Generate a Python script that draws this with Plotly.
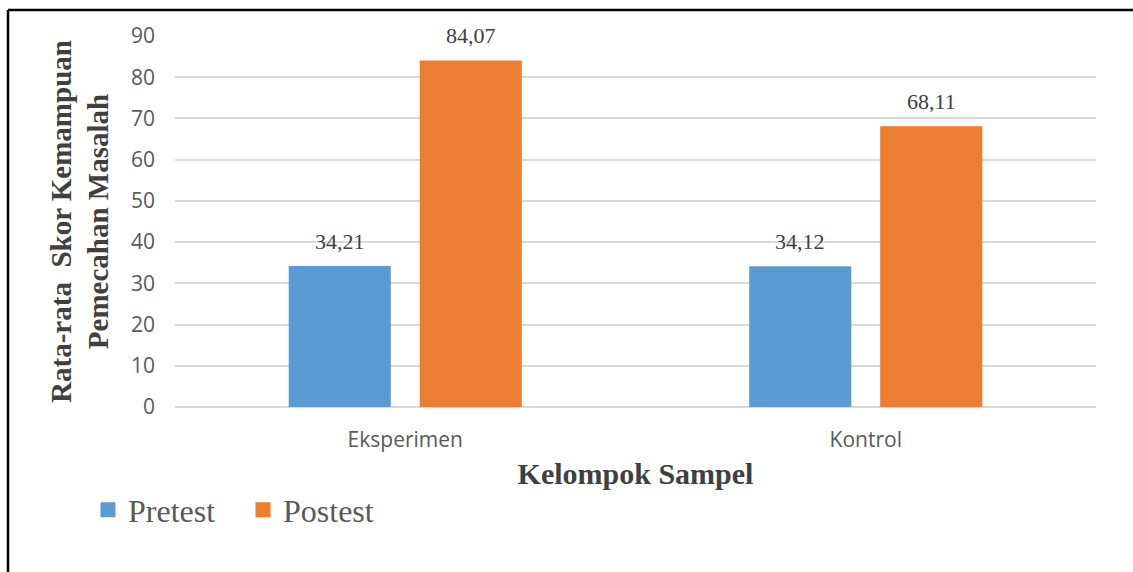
import plotly.graph_objects as go

# Rata-rata skor per kelompok
kelompok = ["Eksperimen", "Kontrol"]
pretest = [34.21, 34.12]
postest = [84.07, 68.11]
y_ticks = [0, 10, 20, 30, 40, 50, 60, 70, 80, 90]

warna_pre = "#5B9BD5"
warna_post = "#ED7D31"
serif = "Liberation Serif, Times New Roman, serif"
sans = "Open Sans, sans-serif"


def fmt(v):
    return f"{v:.2f}".replace(".", ",")


W, H = 1133, 572
L, R, T, B = 175, 37, 36, 165
pw, ph = W - L - R, H - T - B
BARGAP, GROUPGAP = 0.431, 0.221

fig = go.Figure()
fig.add_trace(go.Bar(name="Pretest", x=kelompok, y=pretest, showlegend=False,
                     marker=dict(color=warna_pre, line=dict(width=0))))
fig.add_trace(go.Bar(name="Postest", x=kelompok, y=postest, showlegend=False,
                     marker=dict(color=warna_post, line=dict(width=0))))

# legend entries with square swatches
for nama, warna in [("Pretest", warna_pre), ("Postest", warna_post)]:
    fig.add_trace(go.Scatter(name=nama, x=[None], y=[None], mode="markers",
                             marker=dict(symbol="square", size=15, color=warna,
                                         line=dict(width=0))))

# value labels above each bar
cat_w = pw / len(kelompok)
slot = cat_w * (1 - BARGAP) / 2
annotations = []
for vals, shift in [(pretest, -slot / 2), (postest, slot / 2)]:
    for k, v in zip(kelompok, vals):
        annotations.append(dict(
            x=k, y=v, xref="x", yref="y", text=fmt(v), showarrow=False,
            xanchor="center", yanchor="bottom", xshift=shift, yshift=10,
            font=dict(family=serif, size=22, color="#404040"),
        ))


def px_x(x):
    return (x - L) / pw


def px_y(y):
    return (H - B - y) / ph


fig.update_layout(
    width=W, height=H,
    margin=dict(l=L, r=R, t=T, b=B),
    paper_bgcolor="white", plot_bgcolor="white",
    barmode="group", bargap=BARGAP, bargroupgap=GROUPGAP,
    showlegend=True,
    legend=dict(
        orientation="h", x=px_x(88), y=px_y(510), xanchor="left", yanchor="middle",
        font=dict(family=serif, size=32, color="#595959"),
        itemwidth=30, entrywidth=110, entrywidthmode="pixels",
        traceorder="normal", bgcolor="rgba(0,0,0,0)",
    ),
    annotations=annotations,
    xaxis=dict(
        showgrid=False, showline=False, zeroline=False, ticks="",
        ticklabelstandoff=18,
        tickfont=dict(family=sans, size=21, color="#595959"),
        title=dict(
            text="<b>Kelompok Sampel</b>", standoff=10,
            font=dict(family=serif, size=30, color="#404040"),
        ),
    ),
    yaxis=dict(
        range=[0, 90], tickvals=y_ticks, showgrid=True, gridcolor="#D9D9D9", gridwidth=1.5,
        zeroline=True, zerolinecolor="#D9D9D9", zerolinewidth=1.5, showline=False, ticks="",
        ticklabelstandoff=19,
        tickfont=dict(family=sans, size=21, color="#595959"),
        title=dict(
            text="<b>Rata-rata  Skor Kemampuan<br>Pemecahan Masalah</b>", standoff=13,
            font=dict(family=serif, size=29, color="#404040"),
        ),
    ),
    shapes=[
        dict(type="line", xref="paper", yref="paper", x0=px_x(8), x1=px_x(W + 5),
             y0=px_y(10), y1=px_y(10), line=dict(color="black", width=2.5)),
        dict(type="line", xref="paper", yref="paper", x0=px_x(8), x1=px_x(8),
             y0=px_y(10), y1=px_y(H + 5), line=dict(color="black", width=2.5)),
    ],
)

fig.write_html("out.html")
